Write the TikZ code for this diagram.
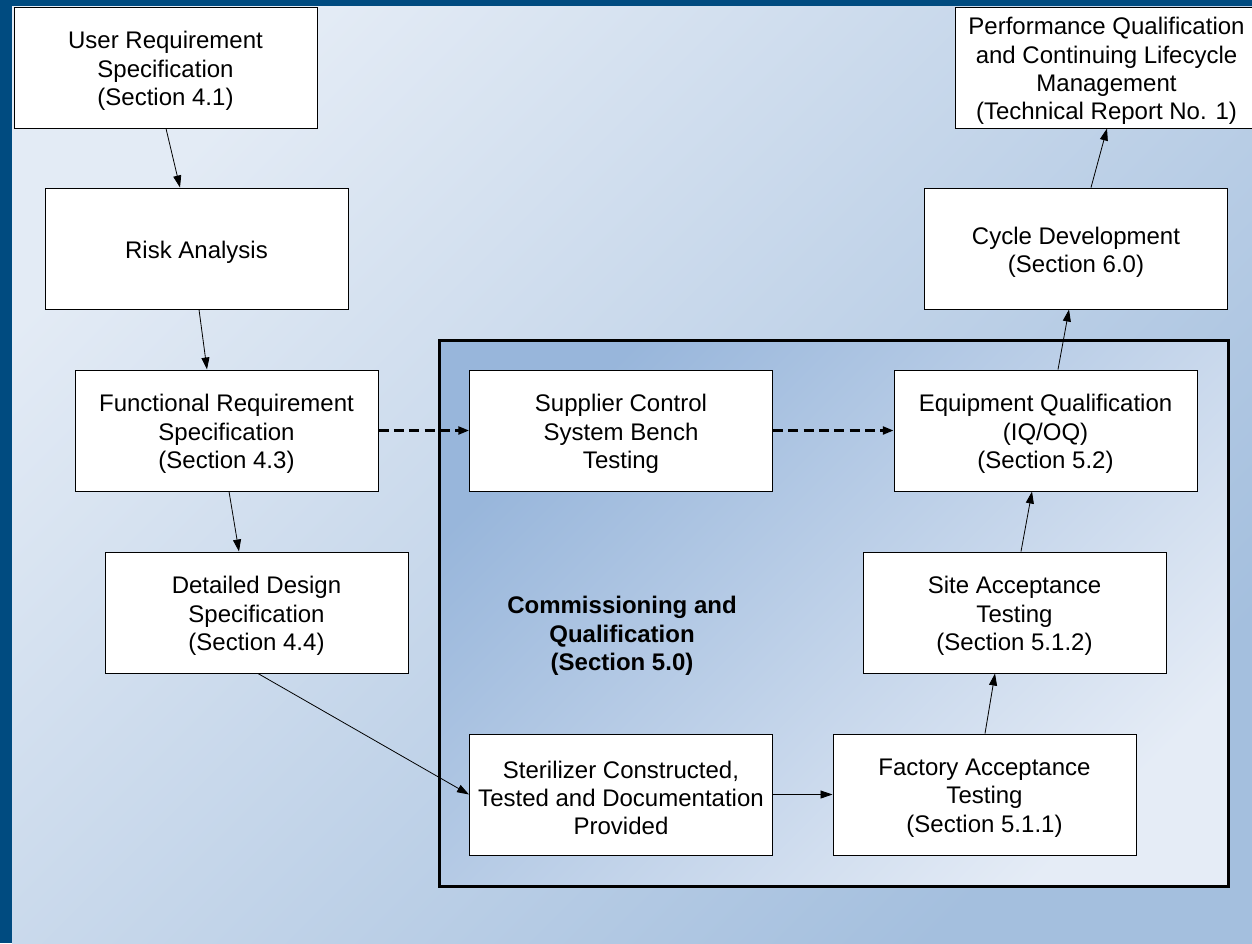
\documentclass[tikz,border=0pt]{standalone}
\usepackage{fontspec}
\setmainfont{Liberation Sans}
\usetikzlibrary{arrows.meta,calc}
\definecolor{frameblue}{RGB}{0,75,128}
\definecolor{bgUL}{HTML}{E3EBF5}
\definecolor{bgLR}{HTML}{A4BFDE}
\definecolor{inUL}{HTML}{98B6DB}
\definecolor{inLR}{HTML}{E5ECF6}
\tikzset{
  stepbox/.style={draw=black, line width=0.75pt, fill=white, minimum width=227.25pt,
    minimum height=90.75pt, inner sep=0pt},
  boxtext/.style={align=center, inner sep=0pt, font=\fontsize{18}{21.2}\selectfont},
  arr/.style={draw=black, line width=0.6pt, -{Triangle[length=9pt,width=6pt]}},
  darr/.style={draw=black, line width=1.6pt, dash pattern=on 7.5pt off 4pt,
    -{Triangle[length=8pt,width=6pt]}},
  cqframe/.style={draw=black, line width=2.25pt},
  cqlabel/.style={align=center, font=\fontsize{18}{21.2}\selectfont\bfseries}
}
\begin{document}
\begin{tikzpicture}[x=0.75pt,y=-0.75pt]
\clip (0,0) rectangle (1252,943);
\useasboundingbox (0,0) rectangle (1252,943);
% frame and background
\fill[frameblue] (0,0) rectangle (1252,943);
\shade[top color=bgUL, bottom color=bgLR, shading angle=45]
  (12,6) rectangle (1252,943);
% commissioning and qualification area
\shade[top color=inUL, bottom color=inLR, shading angle=45]
  (439,340) rectangle (1228,886);
\draw[cqframe] (439,340) rectangle (1228,886);
\node[cqlabel] (cq) at (622,636) {Commissioning and\\Qualification\\(Section 5.0)};
% boxes
\node[stepbox] (urs)  at (165.5,67.5)  {};
\node[stepbox] (risk) at (196.5,248.5) {};
\node[stepbox] (frs)  at (226.5,430.5) {};
\node[stepbox] (dds)  at (256.5,612.5) {};
\node[stepbox] (sup)  at (621,430.5)   {};
\node[stepbox] (eq)   at (1045.5,430.5){};
\node[stepbox] (sat)  at (1014.5,612.5){};
\node[stepbox] (ster) at (621,794.5)   {};
\node[stepbox] (fat)  at (984.5,794.5) {};
\node[stepbox] (cyc)  at (1076,248.5)  {};
\node[stepbox] (pq)   at (1106.5,67.5) {};
% box texts
\node[boxtext] (urs-t)  at ($(urs.center)+(0,3.5)$)  {User Requirement\\Specification\\(Section 4.1)};
\node[boxtext] (risk-t) at ($(risk.center)+(0,3.5)$) {Risk Analysis};
\node[boxtext] (frs-t)  at ($(frs.center)+(0,3.5)$)  {Functional Requirement\\Specification\\(Section 4.3)};
\node[boxtext] (dds-t)  at ($(dds.center)+(0,3.5)$)  {Detailed Design\\Specification\\(Section 4.4)};
\node[boxtext] (sup-t)  at ($(sup.center)+(0,3.5)$)  {Supplier Control\\System Bench\\Testing};
\node[boxtext] (eq-t)   at ($(eq.center)+(0,3.5)$)   {Equipment Qualification\\(IQ/OQ)\\(Section 5.2)};
\node[boxtext] (sat-t)  at ($(sat.center)+(0,3.5)$)  {Site Acceptance\\Testing\\(Section 5.1.2)};
\node[boxtext] (ster-t) at ($(ster.center)+(0,3.5)$) {Sterilizer Constructed,\\Tested and Documentation\\Provided};
\node[boxtext] (fat-t)  at ($(fat.center)+(0,3.5)$)  {Factory Acceptance\\Testing\\(Section 5.1.1)};
\node[boxtext] (cyc-t)  at ($(cyc.center)+(0,3.5)$)  {Cycle Development\\(Section 6.0)};
\node[boxtext] (pq-t)   at ($(pq.center)+(0,3.5)$)   {Performance Qualification\\and Continuing Lifecycle\\Management\\(Technical Report No. 1)};
% connectors
\draw[arr] ($(urs.south)+(0.5,0)$) -- ($(risk.north)+(-16.5,0)$);
\draw[arr] ($(risk.south)+(2.5,0)$) -- ($(frs.north)+(-19.5,0)$);
\draw[arr] ($(frs.south)+(2.5,0)$) -- ($(dds.north)+(-17.5,0)$);
\draw[arr] ($(dds.south)+(1.5,0)$) -- (ster.west);
\draw[arr] (ster.east) -- (fat.west);
\draw[arr] ($(fat.north)+(0.5,0)$) -- ($(sat.south)+(-19.5,0)$);
\draw[arr] ($(sat.north)+(6.5,0)$) -- ($(eq.south)+(-13.5,0)$);
\draw[arr] ($(eq.north)+(12.5,0)$) -- ($(cyc.south)+(-7,0)$);
\draw[arr] ($(cyc.north)+(15,0)$) -- ($(pq.south)+(0.5,0)$);
\draw[darr] (frs.east) -- (sup.west);
\draw[darr] (sup.east) -- (eq.west);
\end{tikzpicture}
\end{document}
